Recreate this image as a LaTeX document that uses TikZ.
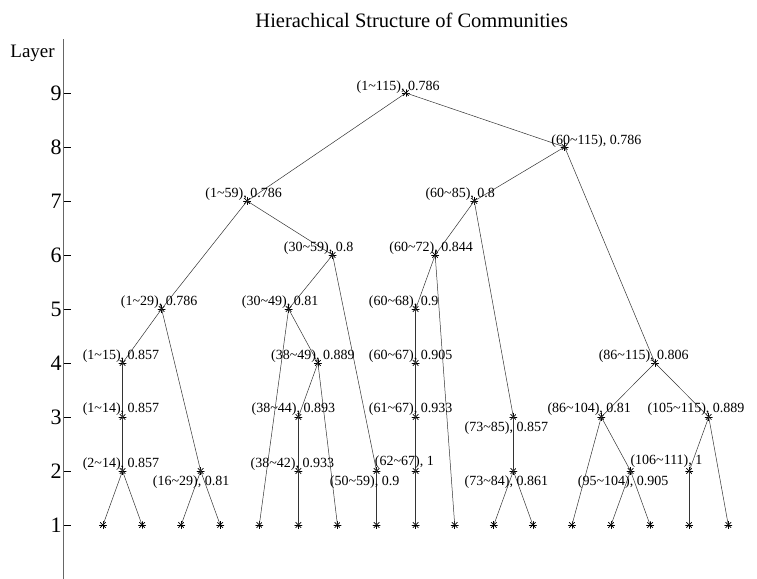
\documentclass[tikz,border=0pt]{standalone}
\usepackage{fontspec}
\setmainfont{Liberation Serif}
\newcommand{\tld}{\textasciitilde}
\begin{document}
\begin{tikzpicture}[x=39.08pt, y=54pt,
        ast/.style={circle, inner sep=0pt, minimum size=8pt, path picture={
                \foreach \ang in {0,45,90,135}
                    {\draw[line width=0.7pt] (path picture bounding box.center) +(\ang:5pt) -- +(\ang+180:5pt);}
            }},
        edge/.style={black!80, line width=0.5pt},
        lab/.style={anchor=base west, inner sep=0pt, font=\fontsize{14}{16}\selectfont}]
    \useasboundingbox (-1.635,0) rectangle (17.735,10.722);
    % axis
    \draw[black!60, line width=0.8pt] (0,0)--(0,10);
    \foreach \l in {1,...,9}
        {
            \draw[line width=0.6pt] (0,\l)--++(0.18,0) node[at start,left,inner sep=2pt,font=\fontsize{22}{24}\selectfont]{\l};
        }
    \node at (-0.23,9.74) [left,inner sep=0pt,font=\fontsize{19}{22}\selectfont]{Layer};
    \node at (8.9,10.35) [font=\fontsize{20.5}{24}\selectfont]{Hierachical Structure of Communities};
    % leaves (layer 1)
    \foreach \i in {1,...,17} { \node[ast] (l\i) at (\i,1) {}; }
    % communities
    \foreach \n/\x/\y in {c2t14/1.5/2, c1t14/1.5/3, c1t15/1.5/4, c16t29/3.5/2, c1t29/2.5/5,
            c38t42/6/2, c38t44/6/3, c38t49/6.5/4, c30t49/5.75/5, c50t59/8/2, c30t59/6.875/6, c1t59/4.6875/7,
            c62t67/9/2, c61t67/9/3, c60t67/9/4, c60t68/9/5, c60t72/9.5/6,
            c73t84/11.5/2, c73t85/11.5/3, c60t85/10.5/7,
            c95t104/14.5/2, c86t104/13.75/3, c106t111/16/2, c105t115/16.5/3, c86t115/15.125/4,
            c60t115/12.8125/8, c1t115/8.75/9}
        { \node[ast] (\n) at (\x,\y) {}; }
    \foreach \a/\b in {c1t115/c1t59, c1t115/c60t115, c60t115/c60t85, c60t115/c86t115,
            c1t59/c1t29, c1t59/c30t59, c1t29/c1t15, c1t29/c16t29,
            c1t15/c1t14, c1t14/c2t14, c2t14/l1, c2t14/l2, c16t29/l3, c16t29/l4,
            c30t59/c30t49, c30t59/c50t59, c30t49/l5, c30t49/c38t49,
            c38t49/c38t44, c38t49/l7, c38t44/c38t42, c38t42/l6, c50t59/l8,
            c60t85/c60t72, c60t85/c73t85, c60t72/c60t68, c60t72/l10,
            c60t68/c60t67, c60t67/c61t67, c61t67/c62t67, c62t67/l9,
            c73t85/c73t84, c73t84/l11, c73t84/l12,
            c86t115/c86t104, c86t115/c105t115, c86t104/l13, c86t104/c95t104,
            c95t104/l14, c95t104/l15, c105t115/c106t111, c105t115/l17, c106t111/l16}
        { \draw[edge] (\a.center)--(\b.center); }
    % labels: (range), modularity
    \foreach \n/\c/\v/\dx/\dy in {c1t115/1\tld115/0.786/-5/2, c60t115/60\tld115/0.786/38/2,
            c1t59/1\tld59/0.786/-4/3, c30t59/30\tld59/0.8/-4/3, c60t85/60\tld85/0.8/-4/3,
            c60t72/60\tld72/0.844/-1/3, c1t29/1\tld29/0.786/-3/3, c30t49/30\tld49/0.81/-2/3,
            c60t68/60\tld68/0.9/-2/3, c1t15/1\tld15/0.857/-2/3, c38t49/38\tld49/0.889/-2/3,
            c60t67/60\tld67/0.905/-2/3, c86t115/86\tld115/0.806/-5/3,
            c1t14/1\tld14/0.857/-2/4, c38t44/38\tld44/0.893/-2/4, c61t67/61\tld67/0.933/-2/4,
            c73t85/73\tld85/0.857/-4/-15, c86t104/86\tld104/0.81/-2/4, c105t115/105\tld115/0.889/-3/4,
            c2t14/2\tld14/0.857/-2/3, c16t29/16\tld29/0.81/-3/-15, c38t42/38\tld42/0.933/-3/3,
            c50t59/50\tld59/0.9/-2/-15, c62t67/62\tld67/1/4/5, c73t84/73\tld84/0.861/-4/-15,
            c95t104/95\tld104/0.905/-1/-15, c106t111/106\tld111/1/-1/6}
        { \node[lab] at ([xshift=\dx pt, yshift=\dy pt]\n.center) {\llap{(\c)}, \v}; }
\end{tikzpicture}
\end{document}
